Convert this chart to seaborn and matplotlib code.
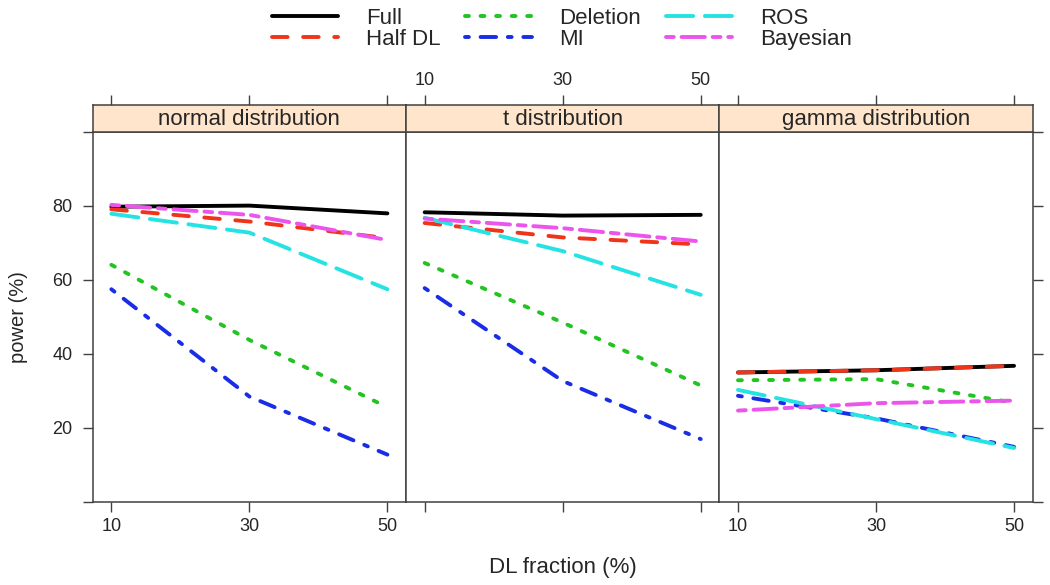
import matplotlib
matplotlib.use('Agg')
import matplotlib.pyplot as plt
import pandas as pd
import seaborn as sns
from matplotlib.lines import Line2D

# Data (power in %, by DL fraction in %)
dl_fraction = [10, 30, 50]
methods = ['Full', 'Half DL', 'Deletion', 'MI', 'ROS', 'Bayesian']
panels = ['normal distribution', 't distribution', 'gamma distribution']

normal_power = {
    'Full': [79.8, 80.1, 78.0],
    'Half DL': [79.1, 75.8, 71.3],
    'Deletion': [64.1, 43.8, 25.6],
    'MI': [57.5, 28.5, 12.8],
    'ROS': [77.9, 72.8, 57.5],
    'Bayesian': [80.3, 77.6, 70.8],
}
t_power = {
    'Full': [78.3, 77.4, 77.6],
    'Half DL': [75.4, 71.5, 69.6],
    'Deletion': [64.6, 48.5, 31.5],
    'MI': [57.8, 32.7, 17.0],
    'ROS': [76.8, 67.8, 56.0],
    'Bayesian': [76.6, 74.0, 70.4],
}
gamma_power = {
    'Full': [35.0, 35.6, 36.8],
    'Half DL': [35.0, 35.6, 36.8],
    'Deletion': [32.9, 33.2, 26.8],
    'MI': [28.7, 22.6, 14.9],
    'ROS': [30.3, 22.4, 14.6],
    'Bayesian': [24.7, 26.7, 27.4],
}
panel_values = [normal_power, t_power, gamma_power]

colors = {'Full': '#000000', 'Half DL': '#f0341a', 'Deletion': '#22c322',
          'MI': '#1a2de6', 'ROS': '#26e3e3', 'Bayesian': '#ec55ec'}
dashes = {'Full': '', 'Half DL': (4, 4), 'Deletion': (1, 3),
          'MI': (1, 3, 4, 3), 'ROS': (7, 3), 'Bayesian': (2, 2, 6, 2)}

rows = []
for panel, values in zip(panels, panel_values):
    for m in methods:
        for x, y in zip(dl_fraction, values[m]):
            rows.append({'panel': panel, 'method': m, 'dl': x, 'power': y})
df = pd.DataFrame(rows)

sns.set_style('white')
plt.rcParams['font.family'] = ['Liberation Sans', 'DejaVu Sans']
text_col = '#262626'
frame_col = '#404040'
lw = 2.8

fig = plt.figure(figsize=(10.5, 5.85), dpi=100)
left0, pw = 0.0883, 0.2984
bottom, ph = 0.1419, 0.6325
sh = 0.0462

for i, panel in enumerate(panels):
    ax = fig.add_axes([left0 + i * pw, bottom, pw, ph])
    st = fig.add_axes([left0 + i * pw, bottom + ph, pw, sh], sharex=ax)
    sub = df[df['panel'] == panel]
    sns.lineplot(data=sub, x='dl', y='power', hue='method', style='method',
                 hue_order=methods, style_order=methods, palette=colors,
                 dashes=dashes, linewidth=lw, legend=False, ax=ax,
                 dash_capstyle='round', solid_capstyle='round')
    ax.set_xlim(7.3, 52.7)
    ax.set_ylim(0, 100)
    ax.set_xlabel('')
    ax.set_ylabel('')
    ax.set_xticks(dl_fraction)
    ax.set_yticks([0, 20, 40, 60, 80, 100])
    ax.set_yticklabels(['', '20', '40', '60', '80', ''])
    for a in (ax, st):
        for s in a.spines.values():
            s.set_color(frame_col)
            s.set_linewidth(1.1)
    ax.tick_params(axis='both', direction='out', length=7.5, width=1.0,
                   color=frame_col, labelcolor=text_col, labelsize=13, pad=4)
    ax.tick_params(axis='y', pad=7)
    # bottom axis labels alternate: outer panels labelled, middle not
    ax.tick_params(axis='x', bottom=True, top=False, labelbottom=(i != 1),
                   labeltop=False)
    if i == 0:
        ax.tick_params(axis='y', left=True, right=False, labelleft=True,
                       labelright=False)
    elif i == 2:
        ax.tick_params(axis='y', left=False, right=True, labelleft=False,
                       labelright=False)
    else:
        ax.tick_params(axis='y', left=False, right=False, labelleft=False,
                       labelright=False)

    # strip with top axis ticks
    st.set_facecolor('#ffe5cc')
    st.set_yticks([])
    st.tick_params(axis='x', direction='out', length=7.5, width=1.0,
                   color=frame_col, labelcolor=text_col, labelsize=13, pad=4,
                   top=True, bottom=False, labeltop=(i == 1),
                   labelbottom=False)
    st.text(0.5, 0.45, panel, transform=st.transAxes, ha='center',
            va='center', fontsize=16, color=text_col)

fig.text(0.0175, bottom + ph / 2, 'power (%)', rotation=90, ha='center',
         va='center', fontsize=14.5, color=text_col)
fig.text(left0 + 1.5 * pw, 0.03, 'DL fraction (%)', ha='center',
         va='center', fontsize=16, color=text_col)

handles = []
for m in methods:
    h = Line2D([], [], color=colors[m], linewidth=lw, dash_capstyle='round')
    if dashes[m]:
        h.set_dashes(dashes[m])
    handles.append(h)
leg = fig.legend(handles, methods, ncol=3, loc='upper center',
                 bbox_to_anchor=(0.535, 1.021), frameon=False, fontsize=16,
                 handlelength=3.0, handletextpad=1.25, columnspacing=1.1,
                 labelspacing=0.0)
for t in leg.get_texts():
    t.set_color(text_col)

fig.savefig('out.png', dpi=100)
